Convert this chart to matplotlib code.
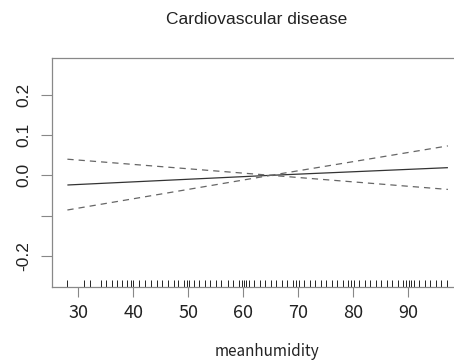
#!/usr/bin/env python3
"""
Cardiovascular disease: partial effect of mean humidity (termplot style)
with +/- 2 SE bands and a rug of observed values.
Output: out.png
"""

import matplotlib; matplotlib.use('Agg')
import matplotlib.pyplot as plt

# fitted term at the ends of the observed range (linear term)
humidity = [28.0, 65.0, 97.2]
fit      = [-0.024, 0.0, 0.019]
upper    = [0.040, 0.0, 0.073]
lower    = [-0.086, 0.0, -0.035]

# observed humidity values for the rug
rug_x = [28.0, 31.0, 32.1, 34.1, 35.0, 36.1, 37.1, 38.0, 38.9, 39.6, 40.0,
         41.0, 42.1, 43.2, 44.3, 45.2, 46.3, 47.3, 48.2, 49.2, 49.7, 50.1,
         51.1, 52.0, 53.1, 54.0, 55.1, 56.0, 57.2, 58.1, 59.2, 59.7, 60.1,
         60.5, 61.1, 62.0, 63.1, 64.0, 65.1, 66.0, 67.1, 68.0, 69.1, 69.6,
         70.1, 71.0, 72.1, 73.0, 74.1, 75.0, 76.1, 77.0, 78.1, 79.1, 79.6,
         80.1, 81.0, 82.1, 83.0, 84.1, 85.0, 86.1, 87.0, 88.1, 89.1, 89.6,
         90.1, 90.5, 91.1, 92.0, 93.1, 94.0, 95.1, 96.0, 97.1]

xticks = [30, 40, 50, 60, 70, 80, 90]
yticks = [-0.2, -0.1, 0.0, 0.1, 0.2]
ylabels = ['-0.2', '', '0.0', '0.1', '0.2']

plt.rcParams.update({'font.family': 'Liberation Sans'})

fig = plt.figure(figsize=(4.54, 3.63), dpi=100)
# the plot box runs past the right edge of the picture, as in the original
ax = fig.add_axes([52 / 454, 76 / 363, 430 / 454, 229 / 363])

ax.plot(humidity, fit, color='#333333', lw=0.9, solid_capstyle='butt')
ax.plot(humidity, upper, color='#666666', lw=0.9, linestyle=(0, (5, 4)))
ax.plot(humidity, lower, color='#666666', lw=0.9, linestyle=(0, (5, 4)))

# rug along the bottom edge
ax.vlines(rug_x, -0.277, -0.277 + 0.017, color='#222222', lw=0.7)

ax.set_xlim(25.2, 103.4)
ax.set_ylim(-0.277, 0.291)

for s in ax.spines.values():
    s.set_color('#888888')
    s.set_linewidth(0.9)

ax.set_xticks(xticks)
ax.set_xticklabels([str(t) for t in xticks], family='Noto Sans CJK JP',
                   fontsize=13, color='#222222')
ax.set_yticks(yticks)
ax.set_yticklabels(ylabels, rotation=90, va='center', fontsize=12.5,
                   color='#222222')
ax.tick_params(axis='x', length=7.5, width=0.8, color='#888888', pad=5)
ax.tick_params(axis='y', length=8, width=0.8, color='#888888', pad=7)

ax.set_xlabel('meanhumidity', family='Noto Sans CJK JP', fontsize=11,
              color='#222222', labelpad=15)
fig.text(257 / 454, 1 - 20 / 363, 'Cardiovascular disease', ha='center',
         va='center', fontsize=12.5, color='#222222')

fig.savefig('out.png', dpi=100)
plt.close()
